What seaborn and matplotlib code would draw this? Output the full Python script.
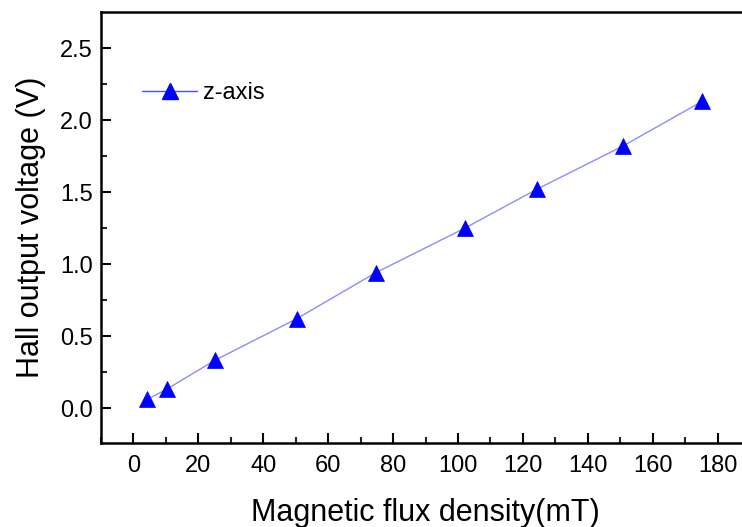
import matplotlib
matplotlib.use("Agg")
import matplotlib.pyplot as plt
from matplotlib.ticker import MultipleLocator, FixedLocator
from matplotlib.lines import Line2D
import seaborn as sns
import pandas as pd

flux_mT = [4.3, 10.2, 25, 50.3, 74.7, 102.2, 124.4, 150.9, 175.3]
voltage_V = [0.06, 0.13, 0.33, 0.62, 0.94, 1.25, 1.52, 1.82, 2.13]
series_name = "z-axis"

sns.set_theme(style="ticks")
plt.rcParams['font.family'] = ['Liberation Sans', 'DejaVu Sans']
plt.rcParams['text.color'] = 'black'
plt.rcParams['axes.labelcolor'] = 'black'

df = pd.DataFrame({"x": flux_mT, "y": voltage_V})

fig = plt.figure(figsize=(7.42, 5.27), dpi=100)
W, H = 742, 527
left, right, top, bottom = 101, 750, 12, 443
ax = fig.add_axes([left / W, 1 - bottom / H, (right - left) / W, (bottom - top) / H])

sns.lineplot(data=df, x="x", y="y", ax=ax, color="#8c8cff", linewidth=1,
             marker="^", markersize=11, markerfacecolor="#0000ff",
             markeredgecolor="#0000ff", markeredgewidth=0.5)

ax.set_xticks(range(0, 181, 20))
ax.xaxis.set_minor_locator(MultipleLocator(10))
ax.yaxis.set_major_locator(MultipleLocator(0.5))
ax.yaxis.set_minor_locator(FixedLocator([0.25, 0.75, 1.25, 1.75, 2.25]))
ax.set_xlim(-10, 190)
ax.set_ylim(-0.243, 2.75)
ax.tick_params(which="major", direction="in", length=7, width=1.5, labelsize=17,
               colors="black", top=False, right=False)
ax.tick_params(axis="x", which="major", pad=9)
ax.tick_params(axis="y", which="major", pad=6)
ax.tick_params(which="minor", direction="in", length=4, width=1.5, top=False, right=False)
for s in ax.spines.values():
    s.set_linewidth(1.8)
    s.set_color("black")

ax.set_xlabel("Magnetic flux density(mT)", fontsize=22, labelpad=15)
ax.set_ylabel("Hall output voltage (V)", fontsize=22, labelpad=10)

handle = Line2D([], [], color="#4a4aff", linewidth=1, marker="^", markersize=11,
                markerfacecolor="#0000ff", markeredgecolor="#0000ff")
ax.legend([handle], [series_name], loc="center left",
          bbox_to_anchor=((142 - left) / (right - left), (bottom - 93) / (bottom - top)),
          frameon=False, fontsize=17, handlelength=2.33, handletextpad=0.25,
          borderpad=0, borderaxespad=0)

fig.savefig("out.png", dpi=100)
